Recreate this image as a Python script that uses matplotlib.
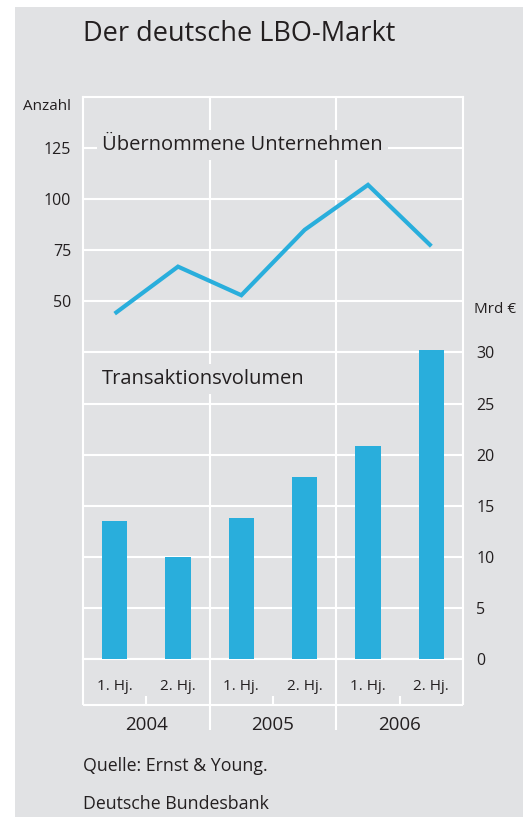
import matplotlib.pyplot as plt
from matplotlib.patches import Rectangle
from matplotlib.transforms import blended_transform_factory

plt.rcParams['font.family'] = ['Open Sans', 'DejaVu Sans']

# data
halbjahre = ['1. Hj.', '2. Hj.', '1. Hj.', '2. Hj.', '1. Hj.', '2. Hj.']
jahre = ['2004', '2005', '2006']
uebernahmen = [44, 67, 53, 85, 107, 77]          # Anzahl
volumen = [13.5, 10.0, 13.8, 17.8, 20.8, 30.2]   # Mrd Euro

grau = '#e1e2e4'
blau = '#29aedc'
txt = '#231f20'

W, H = 523, 817
fig = plt.figure(figsize=(W / 100, H / 100), dpi=100)
fig.patch.set_facecolor('white')

def fx(px):
    return px / W

def fy(py):
    return 1 - py / H

fig.patches.append(Rectangle((fx(15), 0), 1 - fx(15), fy(7), transform=fig.transFigure,
                             facecolor=grau, edgecolor='none', zorder=-1))

x0, x1, y0, y1 = 83, 463, 97, 659
ax = fig.add_axes([fx(x0), fy(y1), fx(x1) - fx(x0), fy(y0) - fy(y1)])
ax.set_facecolor('none')
ax2 = ax.twinx()

x = list(range(len(volumen)))
ax2.bar(x, volumen, width=0.405, color=blau, zorder=3)
ax.plot(x, uebernahmen, color=blau, lw=3, solid_joinstyle='miter', solid_capstyle='butt', zorder=3)

ax.set_xlim(-0.5, 5.5)
ax.set_ylim(-125, 150)
ax2.set_ylim(0, 55)
ax.set_yticks([50, 75, 100, 125])
ax2.set_yticks(range(0, 35, 5))
ax.set_xticks([])

ax.grid(axis='y', color='white', lw=1.5)
ax2.grid(axis='y', color='white', lw=1.5)
ax.tick_params(axis='y', length=0, pad=8.5, labelsize=11.5, labelcolor=txt)
ax2.tick_params(axis='y', length=0, pad=9.5, labelsize=11.5, labelcolor=txt)

for a in (ax, ax2):
    for s in a.spines.values():
        s.set_color('white')
        s.set_linewidth(1.5)
for s in ax2.spines.values():
    s.set_visible(False)

# lines below the plot: frame for the category labels
def ay(py):
    return (y1 - py) / (y1 - y0)

tr = blended_transform_factory(ax.transData, ax.transAxes)
lk = dict(color='white', lw=1.5, clip_on=False, transform=tr, solid_capstyle='butt')
for xv in (1.5, 3.5):
    ax.plot([xv, xv], [1, ay(730)], zorder=1.5, **lk)
for xv in (-0.5, 5.5):
    ax.plot([xv, xv], [0, ay(705)], **lk)
ax.plot([-0.5, 5.5], [ay(705), ay(705)], **lk)
for xv in (0.5, 2.5, 4.5):
    ax.plot([xv, xv], [ay(696), ay(705)], **lk)

for i, lab in enumerate(halbjahre):
    ax.text(i, ay(686), lab, transform=tr, ha='center', va='center', fontsize=11, color=txt)
for j, lab in enumerate(jahre):
    ax.text(2 * j + 0.5, ay(725), lab, transform=tr, ha='center', va='center', fontsize=13.5, color=txt)

box = dict(boxstyle='square,pad=0.25', fc=grau, ec='none')
fig.text(fx(102), fy(145), 'Übernommene Unternehmen', ha='left', va='center', fontsize=14.5, color=txt, bbox=box)
fig.text(fx(102), fy(379), 'Transaktionsvolumen', ha='left', va='center', fontsize=14.5, color=txt, bbox=box)

fig.text(fx(83), fy(34), 'Der deutsche LBO-Markt', ha='left', va='center', fontsize=19.5, color=txt)
fig.text(fx(71), fy(106), 'Anzahl', ha='right', va='center', fontsize=11, color=txt)
fig.text(fx(474), fy(309), 'Mrd €', ha='left', va='center', fontsize=11, color=txt)
fig.text(fx(83), fy(766), 'Quelle: Ernst & Young.', ha='left', va='center', fontsize=12.8, color=txt)
fig.text(fx(83), fy(804), 'Deutsche Bundesbank', ha='left', va='center', fontsize=12.8, color=txt)

fig.savefig('out.png', dpi=100)
